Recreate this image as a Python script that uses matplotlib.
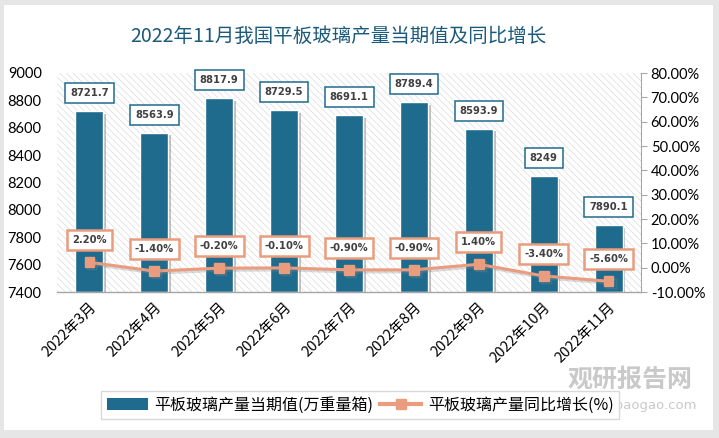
import matplotlib
matplotlib.use("Agg")
import matplotlib.pyplot as plt
from matplotlib.patches import Rectangle, Patch
from matplotlib.lines import Line2D
from matplotlib.ticker import FuncFormatter, MultipleLocator
import matplotlib.patheffects as pe
import numpy as np

plt.rcParams['font.family'] = ['Noto Sans CJK SC', 'DejaVu Sans']
plt.rcParams['hatch.linewidth'] = 0.5

categories = ['2022年3月', '2022年4月', '2022年5月', '2022年6月', '2022年7月',
              '2022年8月', '2022年9月', '2022年10月', '2022年11月']
production = [8721.7, 8563.9, 8817.9, 8729.5, 8691.1, 8789.4, 8593.9, 8249, 7890.1]
production_labels = ['8721.7', '8563.9', '8817.9', '8729.5', '8691.1', '8789.4', '8593.9', '8249', '7890.1']
growth = [2.2, -1.4, -0.2, -0.1, -0.9, -0.9, 1.4, -3.4, -5.6]
growth_labels = ['2.20%', '-1.40%', '-0.20%', '-0.10%', '-0.90%', '-0.90%', '1.40%', '-3.40%', '-5.60%']

title = '2022年11月我国平板玻璃产量当期值及同比增长'
legend_bar = '平板玻璃产量当期值(万重量箱)'
legend_line = '平板玻璃产量同比增长(%)'

BAR = '#1f6b8e'
LINE = '#e99d7e'
W, H = 719, 438

fig = plt.figure(figsize=(W / 100, H / 100), dpi=100, facecolor='#e6e6e6')
fig.patches.append(Rectangle((4 / W, 8 / H), 709 / W, 425 / H, transform=fig.transFigure,
                             facecolor='white', edgecolor='none', zorder=-5))

ax = fig.add_axes([57 / W, (H - 292) / H, 584 / W, 219 / H])
ax.set_zorder(1)
ax.patch.set_visible(False)
ax.add_patch(Rectangle((0, 0), 1, 1, transform=ax.transAxes, facecolor='white',
                       edgecolor='#dcdcdc', linewidth=0, hatch='\\\\\\\\\\', zorder=0))

x = np.arange(len(categories))
bars = ax.bar(x, [p - 7400 for p in production], bottom=7400, width=0.43, color=BAR,
              edgecolor='white', linewidth=1.0, zorder=2,
              path_effects=[pe.SimplePatchShadow(offset=(2, -2), shadow_rgbFace='#777777', alpha=0.45),
                            pe.Normal()])
for xi, p, lab in zip(x, production, production_labels):
    ax.annotate(lab, (xi, p), xytext=(0, 13), textcoords='offset points', ha='center', va='center',
                fontsize=7.2, fontweight='bold', color='#404040', family='DejaVu Sans', zorder=5,
                bbox=dict(boxstyle='square,pad=0.5', facecolor='white', edgecolor=BAR, linewidth=1.1))

ax.set_xlim(-0.5, len(categories) - 0.5)
ax.set_ylim(7400, 9000)
ax.yaxis.set_major_locator(MultipleLocator(200))
ax.set_xticks(x)
ax.set_xticklabels(categories, rotation=45, ha='right', rotation_mode='anchor', fontsize=10.5)
for lab in ax.get_xticklabels():
    lab.set_transform(lab.get_transform() + matplotlib.transforms.ScaledTranslation(9 / 100, -8 / 100, fig.dpi_scale_trans))
ax.tick_params(axis='x', length=0, pad=6)
ax.tick_params(axis='y', length=0, pad=11, labelsize=10.5)
for lab in ax.get_yticklabels():
    lab.set_family('Lato')
for s in ['left', 'right', 'top']:
    ax.spines[s].set_visible(False)
ax.spines['bottom'].set_color('#a6a6a6')
ax.spines['bottom'].set_linewidth(1.0)

ax2 = ax.twinx()
ax2.set_ylim(-10, 80)
ax2.yaxis.set_major_locator(MultipleLocator(10))
ax2.yaxis.set_major_formatter(FuncFormatter(lambda v, p: f'{v:.2f}%'))
ax2.plot(x, growth, color=LINE, linewidth=2.2, marker='s', markersize=7, zorder=3,
         path_effects=[pe.SimpleLineShadow(offset=(1.5, -1.5), shadow_color='#888888', alpha=0.3), pe.Normal()])
for xi, g, lab in zip(x, growth, growth_labels):
    ax2.annotate(lab, (xi, g), xytext=(0, 16), textcoords='offset points', ha='center', va='center',
                 fontsize=7.2, fontweight='bold', color='#404040', family='DejaVu Sans', zorder=6,
                 bbox=dict(boxstyle='square,pad=0.5', facecolor='white', edgecolor=LINE, linewidth=1.8))
for s in ['left', 'top', 'bottom']:
    ax2.spines[s].set_visible(False)
ax2.spines['right'].set_color('#a6a6a6')
ax2.tick_params(axis='y', direction='out', length=4, color='#a6a6a6', pad=3, labelsize=10.5)
for lab in ax2.get_yticklabels():
    lab.set_family('Lato')

fig.text(338 / W, (H - 36) / H, title, ha='center', va='center', fontsize=14, color='#1b5a7a')

# watermark
fig.text(630 / W, (H - 380) / H, '观研报告网', ha='center', va='center', fontsize=18,
         fontweight='bold', color='#c9c9c9', zorder=1)
fig.text(697 / W, (H - 405) / H, 'www.chinabaogao.com', ha='right', va='center', fontsize=9.5,
         color='#c9c9c9', family='DejaVu Sans', zorder=1)

handles = [Patch(facecolor=BAR, edgecolor='none'),
           Line2D([0], [0], color=LINE, linewidth=3, marker='s', markersize=7)]
leg = fig.legend(handles, [legend_bar, legend_line], loc='center', ncol=2,
                 bbox_to_anchor=(360 / W, (H - 405) / H), fontsize=11.5, frameon=True,
                 fancybox=False, edgecolor='#d9d9d9', framealpha=1, handlelength=2.6,
                 handletextpad=0.4, columnspacing=0.4, borderpad=0.35)
leg.get_frame().set_linewidth(1.0)
leg.set_zorder(5)

fig.savefig('out.png', dpi=100, facecolor=fig.get_facecolor())
